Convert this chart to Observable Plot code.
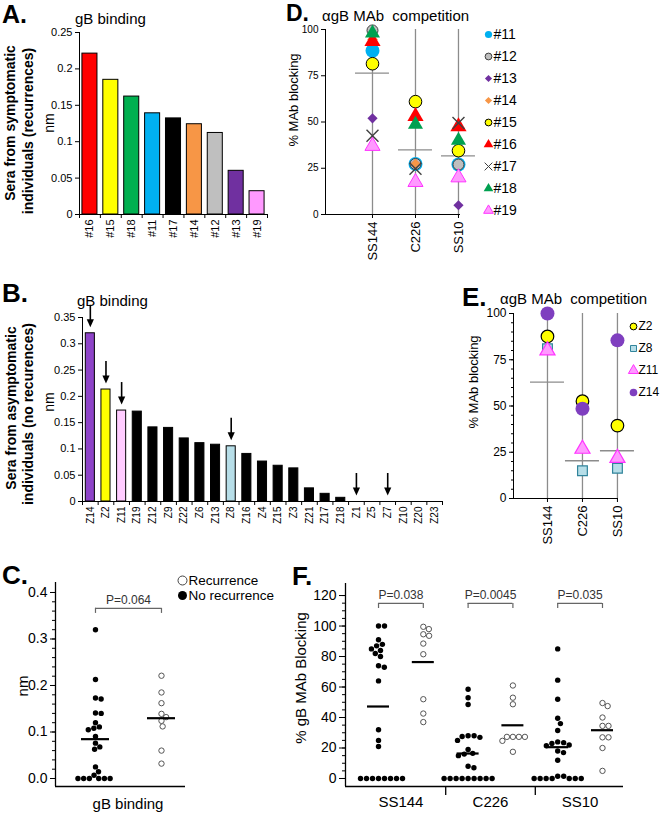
<!DOCTYPE html>
<html><head><meta charset="utf-8">
<script src="https://cdn.jsdelivr.net/npm/d3@7"></script>
<script src="https://cdn.jsdelivr.net/npm/@observablehq/plot@0.6"></script>
<style>
html,body{margin:0;padding:0;background:#fff;}
#fig{position:relative;width:660px;height:813px;overflow:hidden;background:#fff;}
</style></head><body><div id="fig"></div>
<script>
// ---------------- DATA ----------------
// Panel A: gB binding, symptomatic (recurrence) sera
const aIds = ["#16","#15","#18","#11","#17","#14","#12","#13","#19"];
const aValues = [0.221,0.185,0.162,0.139,0.132,0.124,0.112,0.060,0.032];
const aYTicks = [0,0.05,0.1,0.15,0.2,0.25];
// Panel B: gB binding, asymptomatic (no recurrence) sera
const bIds = ["Z14","Z2","Z11","Z19","Z12","Z9","Z22","Z6","Z13","Z8","Z16","Z4","Z15","Z3","Z21","Z17","Z18","Z1","Z5","Z7","Z10","Z20","Z23"];
const bValues = [0.320,0.213,0.173,0.171,0.141,0.140,0.120,0.111,0.108,0.105,0.0905,0.076,0.068,0.063,0.025,0.0146,0.007,0,0,0,0,0,0];
const bArrowed = ["Z14","Z2","Z11","Z8","Z1","Z7"];
const bYTicks = [0,0.05,0.1,0.15,0.2,0.25,0.3,0.35];
// Panel D: % MAb blocking, recurrence sera
const mabs = ["SS144","C226","SS10"];
const dIds = ["#11","#12","#13","#14","#15","#16","#17","#18","#19"];
const dSS144 = [88.5,99.5,52,94.6,81.5,93.6,42.6,98,37];
const dC226 = [27.3,27.3,27.3,27.3,61,53,24.7,48.7,17.5];
const dSS10 = [27,27,5,34.5,34.5,47.5,49.5,40,20];
const dYTicks = [0,25,50,75,100];
// Panel E: % MAb blocking, selected asymptomatic sera
const eIds = ["Z2","Z8","Z11","Z14"];
const eSS144 = [87.6,81,80,100];
const eC226 = [52.6,15,26.8,48.5];
const eSS10 = [39.4,16.3,21.9,85.5];
const eLines = [62.9,20.4,25.8];
// Panel F: % gB MAb blocking, no-recurrence sera (recurrence = panel D values)
const fNoSS144 = [100,100,91,88,87,85,84,82,80,74,73,64,32,25,21,0,0,0,0,0,0,0,0];
const fNoC226 = [58.5,53,48.5,28,28,27.5,27,25,19,16.5,16,15,8,7,0,0,0,0,0,0,0,0,0];
const fNoSS10 = [85,64.5,52,39.5,36,31.5,24,23.5,23,22,21.5,18,17,12,1.5,1.5,0,0,0,0,0,0,0];
const fYTicks = [0,20,40,60,80,100,120];
const fPValues = ["P=0.038","P=0.0045","P=0.035"];
// Panel C
const cYTicks = [0,0.1,0.2,0.3,0.4];
const cPValue = "P=0.064";
const cLegend = ["Recurrence","No recurrence"];

// ---------------- STYLES ----------------
const FONT = "Arial, 'Liberation Sans', Helvetica, sans-serif";
const aColors = ["#ff0000","#ffff00","#00b050","#00b0f0","#000000","#f79646","#bfbfbf","#7030a0","#ff99ff"];
const bColorMap = {Z14:"#8e44c8", Z2:"#ffff00", Z11:"#ffccff", Z8:"#b7dee8"};
const dStyle = {
  "#11": {symbol:"circle", fill:"#00b0f0", stroke:"none", r:7, lr:3.6},
  "#12": {symbol:"circle", fill:"#bfbfbf", stroke:"#404040", r:5.5, lr:3.4},
  "#13": {symbol:"diamond2", fill:"#7030a0", stroke:"none", r:4.6, lr:3.2},
  "#14": {symbol:"diamond2", fill:"#f79646", stroke:"none", r:4.8, lr:3.2},
  "#15": {symbol:"circle", fill:"#ffff00", stroke:"#000", r:6.3, lr:3.4},
  "#16": {symbol:"triangle", fill:"#ff0000", stroke:"none", r:6, lr:3.6},
  "#17": {symbol:"times", fill:"none", stroke:"#404040", r:5.5, lr:3.6},
  "#18": {symbol:"triangle", fill:"#00a050", stroke:"none", r:5.6, lr:3.6},
  "#19": {symbol:"triangle", fill:"#ff99ff", stroke:"#ff33ff", r:5.6, lr:3.6}
};
const eStyle = {
  Z2: {symbol:"circle", fill:"#ffff00", stroke:"#000", r:6.3, lr:3.4},
  Z8: {symbol:"square", fill:"#b7dee8", stroke:"#31849b", r:5.5, lr:3.4},
  Z11: {symbol:"triangle", fill:"#ff99ff", stroke:"#ff33ff", r:5.6, lr:3.8},
  Z14: {symbol:"circle", fill:"#7f3fbf", stroke:"none", r:7, lr:3.8}
};

const fig = document.getElementById("fig");
const st = fs => ({fontFamily: FONT, fontSize: fs + "px", background: "transparent", color: "#000", overflow: "visible"});
function place(svg, left, top) {
  svg.style.position = "absolute"; svg.style.left = left + "px"; svg.style.top = top + "px"; svg.style.overflow = "visible";
  fig.appendChild(svg);
}
function label(text, x, yc, size, o = {}) {
  const d = document.createElement("div");
  const lh = o.lh || 1;
  d.textContent = text;
  d.style.cssText = `position:absolute;white-space:pre;line-height:${lh};font-family:${FONT};font-size:${size}px;font-weight:${o.bold ? "bold" : "normal"};color:${o.color || "#000"};`;
  d.style.left = x + "px";
  if (o.rotate) { d.style.top = yc + "px"; d.style.transform = "translate(-50%,-50%) rotate(-90deg)"; }
  else { d.style.top = (yc - lh * size / 2) + "px"; if (o.middle) d.style.transform = "translateX(-50%)"; }
  fig.appendChild(d);
}
// simple beeswarm: horizontal pixel offsets for dots at given values
function swarm(values, yPx, minDist) {
  const order = values.map((v, i) => i).sort((a, b) => values[b] - values[a]);
  const placed = [], out = new Array(values.length);
  for (const i of order) {
    const y = yPx(values[i]);
    const iv = [];
    for (const p of placed) {
      const dy = Math.abs(p.y - y);
      if (dy < minDist) { const w = Math.sqrt(minDist * minDist - dy * dy); iv.push([p.x - w, p.x + w]); }
    }
    const cands = [0]; iv.forEach(([a, b]) => cands.push(a, b));
    cands.sort((a, b) => (Math.abs(a) - Math.abs(b)) || (b - a));
    let best = 0;
    for (const c of cands) { if (iv.every(([a, b]) => c <= a + 1e-6 || c >= b - 1e-6)) { best = c; break; } }
    out[i] = best; placed.push({x: best, y});
  }
  return out;
}
const downTri = {draw(ctx, size) { const r = Math.sqrt(size / Math.PI); ctx.moveTo(0, r); ctx.lineTo(-0.9 * r, -r); ctx.lineTo(0.9 * r, -r); ctx.closePath(); }};

// ---------------- PANEL A ----------------
{
  const data = aIds.map((id, i) => ({i, id, v: aValues[i], c: aColors[i]}));
  const hw = 0.36;
  const p = Plot.plot({
    width: 280, height: 250, marginLeft: 79, marginRight: 13, marginTop: 32, marginBottom: 36,
    style: st(11),
    x: {type: "linear", domain: [-0.5, aIds.length - 0.5], axis: null},
    y: {domain: [0, 0.25], axis: null},
    color: {type: "identity"},
    marks: [
      Plot.rectY(data, {x1: d => d.i - hw, x2: d => d.i + hw, y1: 0, y2: "v", fill: "c", stroke: "#000", strokeWidth: 1}),
      Plot.ruleY([0], {stroke: "#000"}),
      Plot.ruleX([-0.5], {stroke: "#000"}),
      Plot.axisY({ticks: aYTicks, tickFormat: d => String(d), tickSize: 4, tickPadding: 3, fontSize: 11, label: null}),
      Plot.axisX({ticks: d3.range(-0.5, aIds.length), tickSize: 4, tickFormat: () => "", label: null}),
      Plot.axisX({ticks: d3.range(aIds.length), tickSize: 0, tickPadding: 5, tickRotate: -90, tickFormat: i => aIds[i], fontSize: 11, label: null})
    ]
  });
  place(p, 0, 0);
}

// ---------------- PANEL B ----------------
{
  const data = bIds.map((id, i) => ({i, id, v: bValues[i], c: bColorMap[id] || "#000"}));
  const arrows = data.filter(d => bArrowed.includes(d.id));
  const hw = 0.29;
  const ppu = 184 / 0.35; // pixels per unit on this y scale
  const p = Plot.plot({
    width: 450, height: 285, marginLeft: 82, marginRight: 8, marginTop: 62, marginBottom: 39,
    style: st(11),
    x: {type: "linear", domain: [-0.5, bIds.length - 0.5], axis: null},
    y: {domain: [0, 0.35], axis: null},
    color: {type: "identity"},
    marks: [
      Plot.rectY(data, {x1: d => d.i - hw, x2: d => d.i + hw, y1: 0, y2: "v", fill: "c", stroke: "#000", strokeWidth: 1}),
      Plot.ruleY([0], {stroke: "#000"}),
      Plot.ruleX([-0.5], {stroke: "#000"}),
      Plot.ruleX(arrows, {x: "i", y1: d => d.v + 28 / ppu, y2: d => d.v + 12 / ppu, stroke: "#000", strokeWidth: 1.6}),
      Plot.dot(arrows, {x: "i", y: "v", dy: -10, r: 4, symbol: downTri, fill: "#000", stroke: "none"}),
      Plot.axisY({ticks: bYTicks, tickFormat: d => String(d), tickSize: 4, tickPadding: 3, fontSize: 11, label: null}),
      Plot.axisX({ticks: d3.range(-0.5, bIds.length), tickSize: 4, tickFormat: () => "", label: null}),
      Plot.axisX({ticks: d3.range(bIds.length), tickSize: 0, tickPadding: 5, tickRotate: -90, tickFormat: i => bIds[i], fontSize: 10, label: null})
    ]
  });
  place(p, 0, 255);
}

// ---------------- PANEL D ----------------
const dVals = [dSS144, dC226, dSS10];
{
  const long = dIds.flatMap((id, s) => mabs.map((m, k) => ({id, k, v: dVals[k][s]})));
  const means = mabs.map((m, k) => ({k, m: d3.mean(dVals[k])}));
  const xMin = -1.093, hw = 0.395;
  const marks = [
    Plot.ruleX([0, 1, 2], {y1: 0, y2: 100, stroke: "#8c8c8c", strokeWidth: 1.3}),
    Plot.ruleY(means, {y: "m", x1: d => d.k - hw, x2: d => d.k + hw, stroke: "#8c8c8c", strokeWidth: 1.3}),
    Plot.ruleX([xMin], {stroke: "#000"}),
    Plot.ruleY([0], {stroke: "#000"}),
    Plot.axisY({ticks: dYTicks, tickSize: 4, tickPadding: 3, fontSize: 10, label: null}),
    Plot.axisX({ticks: [0, 1, 2], tickSize: 4, tickPadding: 3, tickRotate: -90, tickFormat: k => mabs[k], fontSize: 13, label: null})
  ];
  for (const id of dIds) {
    const s = dStyle[id];
    marks.push(Plot.dot(long.filter(d => d.id === id), {x: "k", y: "v", symbol: s.symbol, fill: s.fill, stroke: s.stroke, r: s.r, strokeWidth: s.symbol === "times" ? 1.4 : 1}));
  }
  const p = Plot.plot({
    width: 200, height: 270, marginLeft: 45, marginRight: 20, marginTop: 29, marginBottom: 56,
    style: st(10),
    x: {type: "linear", domain: [xMin, 2.047], axis: null},
    y: {domain: [0, 100], axis: null},
    marks
  });
  place(p, 280, 0);
  // legend
  const lg = Plot.plot({
    width: 50, height: 200, marginLeft: 0, marginRight: 0, marginTop: 11, marginBottom: 12,
    style: st(14),
    y: {type: "point", domain: dIds, padding: 0, axis: null},
    marks: [
      ...dIds.map(id => Plot.dot([id], {y: d => d, frameAnchor: "left", dx: 8, symbol: dStyle[id].symbol, fill: dStyle[id].fill, stroke: dStyle[id].stroke, r: dStyle[id].lr, strokeWidth: 1})),
      Plot.text(dIds, {y: d => d, text: d => d, frameAnchor: "left", dx: 13, textAnchor: "start", fontSize: 14})
    ]
  });
  place(lg, 480, 22);
}

// ---------------- PANEL E ----------------
{
  const eVals = [eSS144, eC226, eSS10];
  const long = eIds.flatMap((id, s) => mabs.map((m, k) => ({id, k, v: eVals[k][s]})));
  const lines = mabs.map((m, k) => ({k, m: eLines[k]}));
  const xMin = -0.971, hw = 0.486;
  const marks = [
    Plot.ruleX([0, 1, 2], {y1: 0, y2: 100, stroke: "#8c8c8c", strokeWidth: 1.3}),
    Plot.ruleY(lines, {y: "m", x1: d => d.k - hw, x2: d => d.k + hw, stroke: "#8c8c8c", strokeWidth: 1.3}),
    Plot.ruleX([xMin], {stroke: "#000"}),
    Plot.ruleY([0], {stroke: "#000"}),
    Plot.axisY({ticks: d3.range(0, 101, 5), tickSize: 2, tickFormat: () => "", label: null}),
    Plot.axisY({ticks: dYTicks, tickSize: 4, tickPadding: 3, fontSize: 12, label: null}),
    Plot.axisX({ticks: [0, 1, 2], tickSize: 4, tickPadding: 3, tickRotate: -90, tickFormat: k => mabs[k], fontSize: 13, label: null})
  ];
  for (const id of eIds) {
    const s = eStyle[id];
    marks.push(Plot.dot(long.filter(d => d.id === id), {x: "k", y: "v", symbol: s.symbol, fill: s.fill, stroke: s.stroke, r: s.r, strokeWidth: 1.2}));
  }
  const p = Plot.plot({
    width: 170, height: 260, marginLeft: 43, marginRight: 22, marginTop: 23, marginBottom: 52,
    style: st(12),
    x: {type: "linear", domain: [xMin, 2.03], axis: null},
    y: {domain: [0, 100], axis: null},
    marks
  });
  place(p, 470, 290);
  const lg = Plot.plot({
    width: 35, height: 95, marginLeft: 0, marginRight: 0, marginTop: 10, marginBottom: 18,
    style: st(12),
    y: {type: "point", domain: eIds, padding: 0, axis: null},
    marks: [
      ...eIds.map(id => Plot.dot([id], {y: d => d, frameAnchor: "left", dx: 8, symbol: eStyle[id].symbol, fill: eStyle[id].fill, stroke: eStyle[id].stroke, r: eStyle[id].lr, strokeWidth: 1})),
      Plot.text(eIds, {y: d => d, text: d => d, frameAnchor: "left", dx: 13, textAnchor: "start", fontSize: 12})
    ]
  });
  place(lg, 625, 315);
}

// ---------------- PANEL C ----------------
{
  const W = 290, H = 253, mT = 22, mB = 27, mL = 55, mR = 105;
  const yDom = [-0.0172, 0.4215], xDom = [-0.606, 1.364];
  const unit = (W - mL - mR) / (xDom[1] - xDom[0]);
  const yPx = d3.scaleLinear(yDom, [H - mB, mT]);
  const groups = [{g: 0, vals: bValues, open: false}, {g: 1, vals: aValues, open: true}];
  const pts = groups.flatMap(G => { const off = swarm(G.vals, yPx, 5.7); return G.vals.map((v, i) => ({g: G.g, v, x: G.g + off[i] / unit, open: G.open})); });
  const means = groups.map(G => ({g: G.g, m: d3.mean(G.vals)}));
  const hw = 14 / unit;
  const level = 0.366, leg = 0.011;
  const p = Plot.plot({
    width: W, height: H, marginLeft: mL, marginRight: mR, marginTop: mT, marginBottom: mB,
    style: st(14),
    x: {type: "linear", domain: xDom, axis: null},
    y: {domain: yDom, axis: null},
    marks: [
      Plot.ruleX([xDom[0]], {stroke: "#000", strokeWidth: 1.3}),
      Plot.ruleY([yDom[0]], {stroke: "#000", strokeWidth: 1.3}),
      Plot.axisY({ticks: d3.range(0, 0.401, 0.02), tickSize: 3, tickFormat: () => "", label: null}),
      Plot.axisY({ticks: cYTicks, tickSize: 5, tickPadding: 3, tickFormat: d3.format(".1f"), fontSize: 14, label: null}),
      Plot.dot(pts.filter(d => !d.open), {x: "x", y: "v", r: 2.7, fill: "#000", stroke: "none"}),
      Plot.dot(pts.filter(d => d.open), {x: "x", y: "v", r: 2.7, fill: "#fff", stroke: "#555", strokeWidth: 1}),
      Plot.ruleY(means, {y: "m", x1: d => d.g - hw, x2: d => d.g + hw, stroke: "#000", strokeWidth: 2.2}),
      Plot.ruleY([level], {x1: 0, x2: 1, stroke: "#666", strokeWidth: 1.2}),
      Plot.ruleX([0, 1], {y1: level - leg, y2: level, stroke: "#666", strokeWidth: 1.2}),
      Plot.text([cPValue], {x: 0.5, y: level, dy: -8, text: d => d, fontSize: 12, fill: "#333"})
    ]
  });
  place(p, 0, 560);
  const lg = Plot.plot({
    width: 110, height: 36, marginLeft: 0, marginRight: 0, marginTop: 10, marginBottom: 11,
    style: st(13),
    y: {type: "point", domain: cLegend, padding: 0, axis: null},
    marks: [
      Plot.dot([cLegend[0]], {y: d => d, frameAnchor: "left", dx: 7, r: 4.5, fill: "#fff", stroke: "#444", strokeWidth: 1}),
      Plot.dot([cLegend[1]], {y: d => d, frameAnchor: "left", dx: 7, r: 4.5, fill: "#000"}),
      Plot.text(cLegend, {y: d => d, text: d => d, frameAnchor: "left", dx: 13, textAnchor: "start", fontSize: 13.5})
    ]
  });
  place(lg, 175, 570);
}

// ---------------- PANEL F ----------------
{
  const W = 370, H = 253, mT = 23, mB = 27, mL = 55, mR = 37;
  const yDom = [-5.25, 127.9], xDom = [-0.737, 5.469];
  const unit = (W - mL - mR) / (xDom[1] - xDom[0]);
  const yPx = d3.scaleLinear(yDom, [H - mB, mT]);
  const noRec = [fNoSS144, fNoC226, fNoSS10];
  const groups = mabs.flatMap((m, k) => [{g: 2 * k, vals: noRec[k], open: false}, {g: 2 * k + 1, vals: dVals[k], open: true}]);
  const pts = groups.flatMap(G => { const off = swarm(G.vals, yPx, 6); return G.vals.map((v, i) => ({g: G.g, v, x: G.g + off[i] / unit, open: G.open})); });
  const means = groups.map(G => ({g: G.g, m: d3.mean(G.vals)}));
  const hw = 11 / unit;
  const level = 114.8, leg = 3.3;
  const brackets = mabs.map((m, k) => ({a: 2 * k, b: 2 * k + 1, p: fPValues[k]}));
  const p = Plot.plot({
    width: W, height: H, marginLeft: mL, marginRight: mR, marginTop: mT, marginBottom: mB,
    style: st(14),
    x: {type: "linear", domain: xDom, axis: null},
    y: {domain: yDom, axis: null},
    marks: [
      Plot.ruleX([xDom[0]], {stroke: "#000", strokeWidth: 1.3}),
      Plot.ruleY([yDom[0]], {stroke: "#000", strokeWidth: 1.3}),
      Plot.axisY({ticks: d3.range(0, 121, 5), tickSize: 3, tickFormat: () => "", label: null}),
      Plot.axisY({ticks: fYTicks, tickSize: 6, tickPadding: 3, fontSize: 14, label: null}),
      Plot.axisX({ticks: [1.5, 3.5], tickSize: 9, tickFormat: () => "", strokeWidth: 1.3, label: null}),
      Plot.axisX({ticks: [0.5, 2.5, 4.5], tickSize: 0, tickPadding: 10, tickFormat: i => mabs[Math.round((i - 0.5) / 2)], fontSize: 15, label: null}),
      Plot.dot(pts.filter(d => !d.open), {x: "x", y: "v", r: 2.7, fill: "#000", stroke: "none"}),
      Plot.dot(pts.filter(d => d.open), {x: "x", y: "v", r: 2.7, fill: "#fff", stroke: "#555", strokeWidth: 1}),
      Plot.ruleY(means, {y: "m", x1: d => d.g - hw, x2: d => d.g + hw, stroke: "#000", strokeWidth: 2.2}),
      Plot.ruleY(brackets, {y: level, x1: "a", x2: "b", stroke: "#666", strokeWidth: 1.2}),
      Plot.ruleX(brackets.flatMap(d => [d.a, d.b]), {y1: level - leg, y2: level, stroke: "#666", strokeWidth: 1.2}),
      Plot.text(brackets, {x: d => (d.a + d.b) / 2, y: level, dy: -8, text: "p", fontSize: 12, fill: "#333"})
    ]
  });
  place(p, 290, 560);
}

// ---------------- TEXT LABELS ----------------
const L = {bold: true};
label("A.", 2, 14.5, 25, L);
label("gB binding", 75, 18, 15);
label("nm", 49, 123, 14, {rotate: true});
label("Sera from symptomatic", 10, 123, 14, {bold: true, rotate: true});
label("individuals (recurrences)", 28, 131, 14, {bold: true, rotate: true});

label("B.", 2, 293, 26, L);
label("gB binding", 77, 300, 15);
label("nm", 49, 402, 14, {rotate: true});
label("Sera from asymptomatic", 11, 408, 14, {bold: true, rotate: true});
label("individuals (no recurences)", 28, 414, 14, {bold: true, rotate: true});

label("C.", 2, 575, 26, L);
label("nm", 22, 686, 15, {rotate: true});
label("gB binding", 128, 803, 15, {middle: true});

label("D.", 286, 13.5, 23, L);
label("αgB MAb  competition", 322, 15, 15);
label("% MAb blocking", 293, 100, 13, {rotate: true});

label("E.", 462, 297, 26, L);
label("αgB MAb  competition", 500, 298, 15);
label("% MAb blocking", 473, 382, 13, {rotate: true});

label("F.", 292, 576, 26, L);
label("% gB MAb Blocking", 300, 678, 15, {rotate: true});
</script></body></html>
